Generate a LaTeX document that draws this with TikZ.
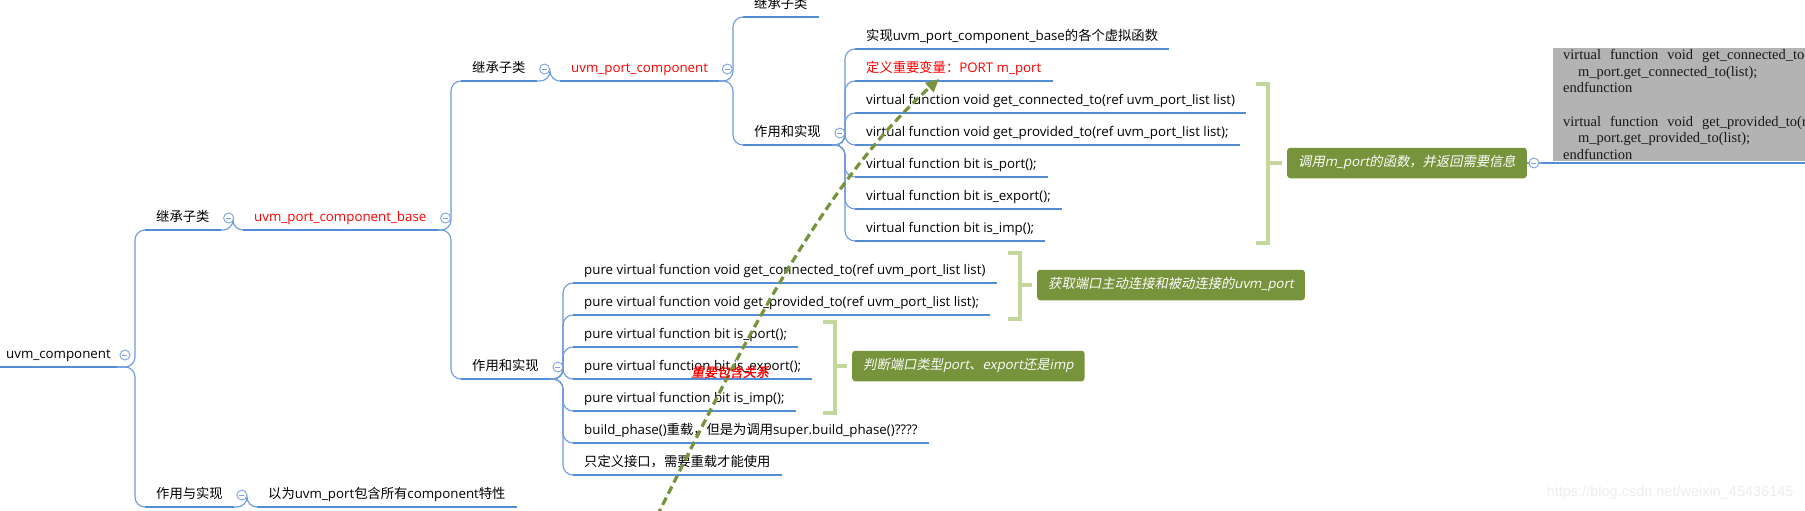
\documentclass[tikz,border=0pt]{standalone}
\usepackage{fontspec}
\usepackage{tikz}
\usepackage{xcolor}
\usetikzlibrary{arrows.meta}
\setmainfont{Open Sans}
\newfontfamily\zhfont{Noto Sans CJK SC}
\newfontfamily\zhitfont[FakeSlant=0.2]{Noto Sans CJK SC}
\newfontfamily\zhbifont[FakeSlant=0.2,FakeBold=1.2]{Noto Sans CJK SC}
\newfontfamily\enitfont[FakeSlant=0.2]{Open Sans}
\newfontfamily\codefont{Liberation Serif}
\newfontfamily\wmfont{Liberation Sans}
\newcommand{\zh}[1]{{\zhfont #1}}
\newcommand{\zhit}[1]{{\zhitfont #1}}
\newcommand{\widegap}{\spaceskip=9pt\relax}
\definecolor{ulblue}{RGB}{83,141,213}
\definecolor{brblue}{RGB}{108,155,222}
\definecolor{foldblue}{RGB}{125,163,222}
\definecolor{sumgreen}{RGB}{119,147,60}
\definecolor{bracegreen}{RGB}{196,215,155}
\definecolor{codegray}{RGB}{179,179,179}

\begin{document}
\begin{tikzpicture}[
  x=1pt, y=-1pt,
  font=\fontsize{13.3}{16}\selectfont,
  topic/.style={anchor=south west, inner xsep=11pt, inner ysep=4.5pt,
                text height=11pt, text depth=3.5pt},
  hot/.style={topic, text=red},
  uline/.style={ulblue, line width=2.6pt},
  branch/.style={brblue, line width=1.1pt, rounded corners=10pt},
  fold/.style={circle, draw=foldblue, fill=white, line width=0.9pt,
               minimum size=10pt, inner sep=0pt,
               path picture={\draw[foldblue, line width=0.9pt]
                 ([xshift=2.5pt]path picture bounding box.west) --
                 ([xshift=-2.5pt]path picture bounding box.east);}},
  summary/.style={anchor=west, fill=sumgreen, text=white, rounded corners=3pt,
                  inner xsep=11pt, inner ysep=8pt, text height=11pt, text depth=3.5pt,
                  font=\enitfont\fontsize{13.3}{16}\selectfont},
  brace/.style={bracegreen, line width=4.5pt},
  codebox/.style={anchor=north west, fill=codegray, text=black!90, align=left,
                  text width=520pt, inner xsep=10pt, inner ysep=1pt,
                  font=\codefont\fontsize{14.5}{16.7}\selectfont},
  relarrow/.style={sumgreen, line width=3.2pt, dash pattern=on 8pt off 4.5pt,
                   -{Triangle[length=13pt, width=12pt]}}]

\useasboundingbox (0,0) rectangle (1805,511);
\fill[white] (0,0) rectangle (1805,511);
\clip (0,0) rectangle (1805,511);

% tree
\node[topic, inner xsep=6pt] (R) at (0,367) {uvm\_component};
\node[topic] (A1) at (145,230) {\zh{继承子类}};
\node[topic] (A2) at (145,507) {\zh{作用与实现}};
\node[hot]   (B1) at (243,230) {uvm\_port\_component\_base};
\node[topic] (B2) at (257,507) {\zh{以为}uvm\_port\zh{包含所有}component\zh{特性}};
\node[topic] (C1) at (461,81) {\zh{继承子类}};
\node[topic] (C2) at (461,379) {\zh{作用和实现}};
\node[hot]   (D1) at (560,81) {uvm\_port\_component};
\node[topic] (E1) at (743,17) {\zh{继承子类}};
\node[topic] (E2) at (743,145) {\zh{作用和实现}};

\node[topic] (F1) at (855,49) {\zh{实现}uvm\_port\_component\_base\zh{的各个虚拟函数}};
\node[hot]   (F2) at (855,81) {\zh{定义重要变量：}PORT m\_port};
\node[topic] (F3) at (855,113) {virtual function void get\_connected\_to(ref uvm\_port\_list list)};
\node[topic] (F4) at (855,145) {virtual function void get\_provided\_to(ref uvm\_port\_list list);};
\node[topic] (F5) at (855,177) {virtual function bit is\_port();};
\node[topic] (F6) at (855,209) {virtual function bit is\_export();};
\node[topic] (F7) at (855,241) {virtual function bit is\_imp();};

\node[topic] (K1) at (573,283) {pure virtual function void get\_connected\_to(ref uvm\_port\_list list)};
\node[topic] (K2) at (573,315) {pure virtual function void get\_provided\_to(ref uvm\_port\_list list);};
\node[topic] (K3) at (573,347) {pure virtual function bit is\_port();};
\node[topic] (K4) at (573,379) {pure virtual function bit is\_export();};
\node[topic] (K5) at (573,411) {pure virtual function bit is\_imp();};
\node[topic] (K6) at (573,443) {build\_phase()\zh{重载，但是为调用}super.build\_phase()????};
\node[topic] (K7) at (573,475) {\zh{只定义接口，需要重载才能使用}};

% summaries
\node[summary] (H1) at (1287,163) {\zhit{调用}m\_port\zhit{的函数，并返回需要信息}};
\node[summary] (H2) at (1037,285) {\zhit{获取端口主动连接和被动连接的}uvm\_port};
\node[summary] (H3) at (852,366) {\zhit{判断端口类型}port\zhit{、}export\zhit{还是}imp};

\node[codebox] (I1) at (1553,48) {\widegap virtual function void get\_connected\_to(ref uvm\_port\_list list)\\
  \hspace*{15pt}m\_port.get\_connected\_to(list);\\
  endfunction\\[16.7pt]
  virtual function void get\_provided\_to(ref uvm\_port\_list list)\\
  \hspace*{15pt}m\_port.get\_provided\_to(list);\\
  endfunction};
\coordinate (I1u) at (1543,163);

% connectors
\foreach \p/\c in {R/A1, R/A2, A1/B1, A2/B2, B1/C1, B1/C2, C1/D1, D1/E1, D1/E2,
                   E2/F1, E2/F2, E2/F3, E2/F4, E2/F5, E2/F6, E2/F7,
                   C2/K1, C2/K2, C2/K3, C2/K4, C2/K5, C2/K6, C2/K7}
  \draw[branch] (\p.south east) -- ([xshift=-10pt]\c.south west |- \p.south east) |- (\c.south west);
\draw[branch] (H1.east) -- (I1u);

\foreach \n in {R, A1, A2, B1, B2, C1, C2, D1, E1, E2, F1, F2, F3, F4, F5, F6, F7,
                K1, K2, K3, K4, K5, K6, K7}
  \draw[uline] (\n.south west) -- (\n.south east);
\draw[uline] (I1u) -- ++(270,0);

\foreach \n in {R, A1, A2, B1, C1, C2, D1, E2}
  \node[fold] (\n-f) at ([xshift=8pt]\n.east) {};
\node[fold] (H1-f) at ([xshift=7pt]H1.east) {};

% summary brackets
\coordinate (G1t) at (1268,84);  \coordinate (G1b) at (1268,243);
\coordinate (G2t) at (1020,253); \coordinate (G2b) at (1020,319);
\coordinate (G3t) at (835,322);  \coordinate (G3b) at (835,413);
\foreach \g/\h in {G1/H1, G2/H2, G3/H3} {
  \draw[brace] ([xshift=-12pt]\g t) -- (\g t) -- (\g b) -- ([xshift=-12pt]\g b);
  \draw[brace] (\g t |- \h.west) -- ([xshift=-5pt]\h.west);
}

% dashed relation
\coordinate (relS) at (657,516);
\coordinate (relE) at (939,79);
\draw[relarrow] (relS) .. controls (730,372) and (815,190) .. (relE);
\node[font=\zhbifont\fontsize{13}{15}\selectfont, text=red] (imp) at (730,372) {重要包含关系};

\node[font=\wmfont\fontsize{14.5}{16}\selectfont, text=black!7, anchor=east] (wm)
  at (1797,493) {https://blog.csdn.net/weixin\_45436145};
\end{tikzpicture}
\end{document}
